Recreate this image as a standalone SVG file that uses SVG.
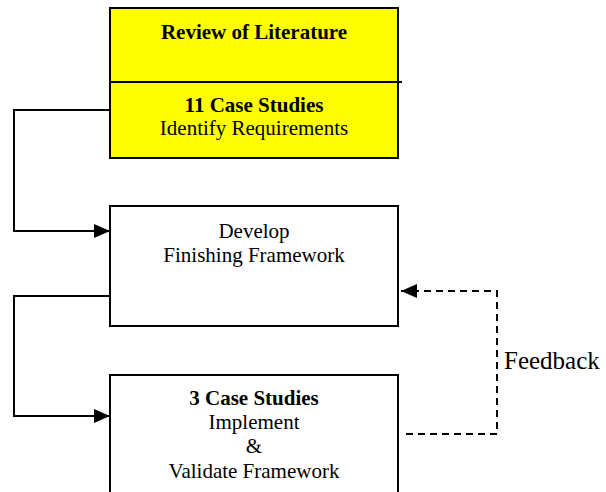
<svg xmlns="http://www.w3.org/2000/svg" width="606" height="492" viewBox="0 0 606 492">
  <style>
    .box { fill: #ffffff; stroke: #000000; stroke-width: 2; }
    .lit { fill: #ffff00; stroke: #000000; stroke-width: 2; }
    .t { font-family: "Liberation Serif", "Times New Roman", serif; font-size: 21px; fill: #000000; text-anchor: middle; }
    .b { font-weight: bold; }
    .link { fill: none; stroke: #000000; stroke-width: 2; }
    .dash { stroke-dasharray: 7 5; }
  </style>
  <defs>
    <marker id="arrow" viewBox="0 0 16 14" refX="16" refY="7" markerWidth="16" markerHeight="14" markerUnits="userSpaceOnUse" orient="auto">
      <path d="M0,0 L16,7 L0,14 Z" fill="#000000"/>
    </marker>
  </defs>
  <rect width="606" height="492" fill="#ffffff"/>

  <g id="review-node">
    <rect class="lit" x="110" y="8" width="288" height="150"/>
    <line x1="110" y1="82" x2="402" y2="82" stroke="#000000" stroke-width="2"/>
    <text class="t b" x="254" y="39">Review of Literature</text>
    <text class="t b" x="254" y="112">11 Case Studies</text>
    <text class="t" x="254" y="135">Identify Requirements</text>
  </g>

  <g id="develop-node">
    <rect class="box" x="110" y="206" width="288" height="120"/>
    <text class="t" x="254" y="238">Develop</text>
    <text class="t" x="254" y="262">Finishing Framework</text>
  </g>

  <g id="validate-node">
    <path class="link" d="M110,500 V375 H398 V500"/>
    <text class="t b" x="254" y="405">3 Case Studies</text>
    <text class="t" x="254" y="429">Implement</text>
    <text class="t" x="254" y="453">&amp;</text>
    <text class="t" x="254" y="478">Validate Framework</text>
  </g>

  <g id="connectors">
    <path class="link" d="M110,110 H14 V231 H110" marker-end="url(#arrow)"/>
    <path class="link" d="M110,296 H14 V416 H110" marker-end="url(#arrow)"/>
    <path class="link dash" d="M406,434 H497 V291 H401" marker-end="url(#arrow)"/>
    <text x="504" y="369" font-family="'Liberation Serif', 'Times New Roman', serif" font-size="25" fill="#000000">Feedback</text>
  </g>
</svg>
